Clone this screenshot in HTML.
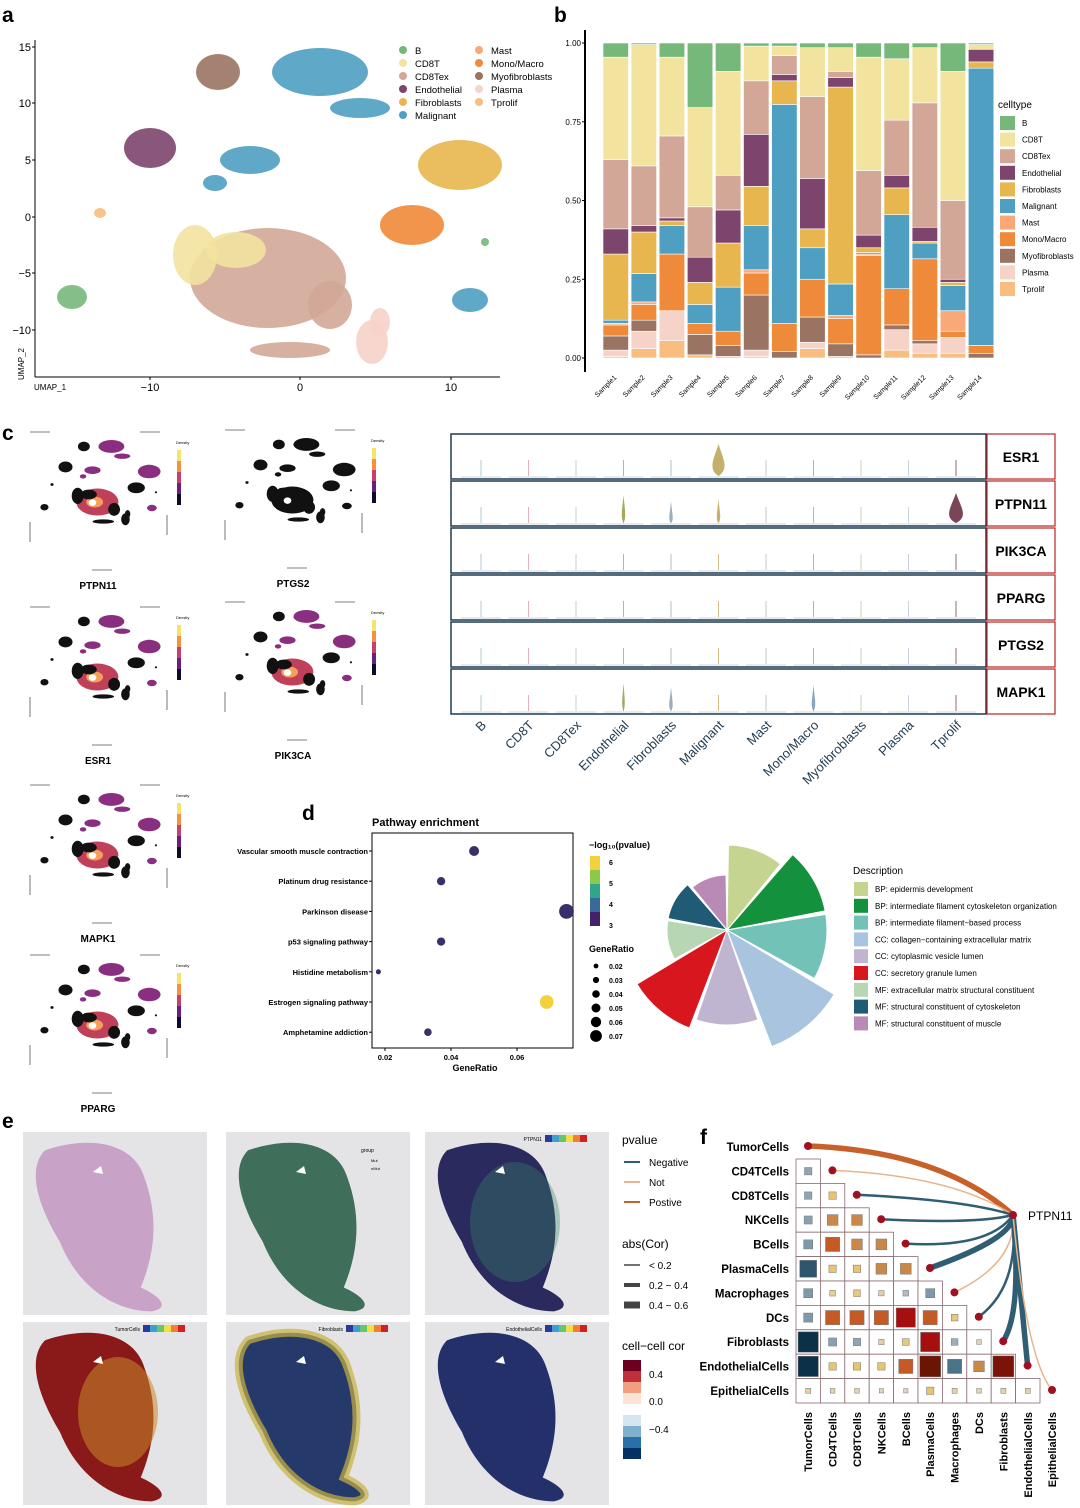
<!DOCTYPE html>
<html><head><meta charset="utf-8">
<style>
body{margin:0;background:#fff;}
svg{display:block;font-family:"Liberation Sans",Arial,sans-serif;}
.lbl{font-weight:bold;font-size:21px;}
</style></head>
<body>
<svg id="fig" width="1080" height="1508" viewBox="0 0 1080 1508" xmlns="http://www.w3.org/2000/svg">
<text class="lbl" x="2" y="22">a</text>
<text class="lbl" x="554" y="22">b</text>
<text class="lbl" x="2" y="440">c</text>
<text class="lbl" x="302" y="820">d</text>
<text class="lbl" x="2" y="1128">e</text>
<text class="lbl" x="700" y="1144">f</text>
<g id="A"></g><g id="B"></g><g id="C"></g><g id="D"></g><g id="E"></g><g id="F"></g>
</svg>
<script>
const NS="http://www.w3.org/2000/svg";
function mk(p,t,a,txt){const e=document.createElementNS(NS,t);for(const k in a)e.setAttribute(k,a[k]);if(txt!==undefined)e.textContent=txt;p.appendChild(e);return e;}

/* ---------- Panel b data ---------- */
const samples=["Sample1","Sample2","Sample3","Sample4","Sample5","Sample6","Sample7","Sample8","Sample9","Sample10","Sample11","Sample12","Sample13","Sample14"];
const celltypes=["Tprolif","Plasma","Myofibroblasts","Mono/Macro","Mast","Malignant","Fibroblasts","Endothelial","CD8Tex","CD8T","B"];
const ctColors=["#f9bd80","#f6d3c8","#9a7362","#ef8a3a","#f9a878","#4e9fc2","#e8b64e","#7d456e","#d2a797","#f2e39e","#76b87a"];
const propTprolif=[.005,.03,.055,.01,.005,.005,0,.03,.005,0,.025,.015,.015,0];
const propPlasma=[.02,.055,.095,0,0,.02,0,.02,0,0,.065,.03,.05,0];
const propMyo=[.045,.035,0,.065,.035,.175,.02,.08,.04,.01,.015,.01,0,.015];
const propMono=[.035,.05,.18,.035,.045,.07,.09,.12,.08,.315,.115,.26,.02,.025];
const propMast=[.005,.008,0,0,0,.01,0,0,.01,.005,0,0,.065,0];
const propMalig=[.01,.09,.09,.06,.14,.14,.695,.1,.1,.005,.235,.05,.08,.88];
const propFib=[.21,.132,.015,.07,.14,.125,.075,.06,.625,.015,.085,.005,.01,.02];
const propEndo=[.08,.02,.01,.08,.105,.165,.02,.16,.03,.04,.04,.045,.01,.04];
const propCD8Tex=[.22,.19,.26,.16,.11,.17,.06,.26,.02,.205,.175,.395,.25,0];
const propCD8T=[.325,.385,.25,.315,.33,.11,.03,.155,.075,.36,.195,.175,.41,.015];
const propB=[.045,.005,.045,.205,.09,.01,.01,.015,.015,.045,.05,.015,.09,.005];
const series=[propTprolif,propPlasma,propMyo,propMono,propMast,propMalig,propFib,propEndo,propCD8Tex,propCD8T,propB];

(function(){
 const g=document.getElementById('B');
 const y=v=>358-v*315, x0=603, pitch=28.1;
 mk(g,'line',{x1:585,y1:30,x2:585,y2:372,stroke:'#000','stroke-width':2});
 [0,.25,.5,.75,1].forEach(t=>{
  const tk=mk(g,'text',{x:581,y:y(t)+3,'font-size':8,'text-anchor':'end'},t.toFixed(2));
  
  mk(g,'line',{x1:582,x2:585,y1:y(t),y2:y(t),stroke:'#000'});
 });
 samples.forEach((s,i)=>{
  const tot=series.reduce((a,ser)=>a+ser[i],0);
  let cum=0;
  series.forEach((ser,k)=>{
   const v=ser[i]/tot;
   const r=mk(g,'rect',{x:x0+i*pitch,y:y(cum+v),width:25.5,height:Math.max(0,v*315),fill:ctColors[k],stroke:'#fff','stroke-width':0.6});
   
   cum+=v;
  });
  const cx=x0+i*pitch+14;
  const t=mk(g,'text',{x:cx,y:378,'font-size':7,'text-anchor':'end',transform:`rotate(-45 ${cx} 378)`},s);
  
 });
 mk(g,'text',{x:998,y:108,'font-size':10},'celltype');
 const order=[10,9,8,7,6,5,4,3,2,1,0];
 order.forEach((k,j)=>{
  const yy=116+j*16.6;
  const r=mk(g,'rect',{x:1000,y:yy,width:15,height:14,fill:ctColors[k]});
  
  mk(g,'text',{x:1022,y:yy+10,'font-size':8},celltypes[k]);
 });
})();

/* ---------- Panel a (UMAP) ---------- */
const clusters=[
 [320,72,48,24,'#4e9fc2'],[360,108,30,10,'#4e9fc2'],[250,160,30,14,'#4e9fc2'],[215,183,12,8,'#4e9fc2'],[470,300,18,12,'#4e9fc2'],
 [218,72,22,18,'#9a7362'],[150,148,26,20,'#7d456e'],[460,165,42,25,'#e8b64e'],[412,225,32,20,'#ef8a3a'],
 [268,278,78,50,'#d2a797'],[195,255,22,30,'#f2e39e'],[330,305,22,24,'#d2a797'],[372,342,16,22,'#f6d3c8'],[380,322,10,14,'#f6d3c8'],
 [72,297,15,12,'#76b87a'],[100,213,6,5,'#f9bd80'],[485,242,4,4,'#76b87a'],[290,350,40,8,'#d2a797'],[236,250,30,18,'#f2e39e']
];
(function(){
 const g=document.getElementById('A');
 mk(g,'line',{x1:35,y1:40,x2:35,y2:377,stroke:'#000'});
 mk(g,'line',{x1:35,y1:377,x2:500,y2:377,stroke:'#000'});
 [[15,47],[10,103],[5,160],[0,217],[-5,273],[-10,330]].forEach(([v,yy])=>{
  mk(g,'text',{x:31,y:yy+4,'font-size':11,'text-anchor':'end'},v<0?'\u2212'+(-v):v);
  mk(g,'line',{x1:32,x2:35,y1:yy,y2:yy,stroke:'#000'});
 });
 [[-10,150],[0,300],[10,451]].forEach(([v,xx])=>{
  mk(g,'text',{x:xx,y:391,'font-size':11,'text-anchor':'middle'},v<0?'\u2212'+(-v):v);
  mk(g,'line',{x1:xx,x2:xx,y1:377,y2:380,stroke:'#000'});
 });
 mk(g,'text',{x:34,y:390,'font-size':8},'UMAP_1');
 mk(g,'text',{x:24,y:380,'font-size':8,transform:'rotate(-90 24 380)'},'UMAP_2');
 clusters.forEach(c=>{const e=mk(g,'ellipse',{cx:c[0],cy:c[1],rx:c[2],ry:c[3],fill:c[4],opacity:0.9});});
 const leg=[['B','#76b87a'],['CD8T','#f2e39e'],['CD8Tex','#d2a797'],['Endothelial','#7d456e'],['Fibroblasts','#e8b64e'],['Malignant','#4e9fc2'],
  ['Mast','#f9a878'],['Mono/Macro','#ef8a3a'],['Myofibroblasts','#9a7362'],['Plasma','#f6d3c8'],['Tprolif','#f9bd80']];
 leg.forEach((l,i)=>{const col=i<6?0:1,row=i<6?i:i-6;const xx=403+col*76,yy=50+row*13;
  const d=mk(g,'circle',{cx:xx,cy:yy,r:4,fill:l[1]});
  mk(g,'text',{x:xx+12,y:yy+4,'font-size':9.5},l[0]);});
})();

/* ---------- Panel c ---------- */
(function(){
 const g=document.getElementById('C');
 const panels=[[30,432,'PTPN11'],[225,430,'PTGS2'],[30,607,'ESR1'],[225,602,'PIK3CA'],[30,785,'MAPK1'],[30,955,'PPARG']];
 panels.forEach((p,i)=>{
  const [px,py,name]=p, s=0.27;
  const gg=mk(g,'g',{transform:`translate(${px},${py})`});
  
  mk(gg,'rect',{x:0,y:0,width:137,height:138,fill:'none',stroke:'#555','stroke-dasharray':'20 90','stroke-width':0.8});
  const inner=mk(gg,'g',{transform:`translate(-5,-5) scale(${s})`});
  clusters.forEach((c,j)=>{
   const hot=(j<5||j==7||j==9)&&(i!=1);
   mk(inner,'ellipse',{cx:c[0],cy:c[1],rx:c[2],ry:c[3],fill:hot?(j==9?'#c0405a':'#8a2f80'):'#111'});
   if(hot&&j==9)mk(inner,'ellipse',{cx:c[0]-10,cy:c[1],rx:c[2]*0.4,ry:c[3]*0.4,fill:'#f5a05a'});
  });
  mk(inner,'ellipse',{cx:250,cy:280,rx:14,ry:12,fill:'#fff'});
  const grad=['#f5e46a','#f59040','#c8406a','#6a1f7a','#0d0a2a'];
  grad.forEach((c,k)=>mk(gg,'rect',{x:147,y:18+k*11,width:4,height:11,fill:c}));
  mk(gg,'text',{x:146,y:12,'font-size':4},'Density');
  mk(gg,'text',{x:68,y:157,'font-size':10,'font-weight':'bold','text-anchor':'middle'},name);
 });
 const vcats=["B","CD8T","CD8Tex","Endothelial","Fibroblasts","Malignant","Mast","Mono/Macro","Myofibroblasts","Plasma","Tprolif"];
 const vcol=["#9fbcd0","#d7a0a8","#b9c4d2","#a8a860","#9aaec0","#c4b06a","#c8b8b8","#8aa6be","#c8c8a0","#c0c8d8","#7a4558"];
 const genes=["ESR1","PTPN11","PIK3CA","PPARG","PTGS2","MAPK1"];
 const vHeight=[[0,0,0,0,0,18,0,0,0,0,0],[0,0,0,14,8,10,0,0,0,0,16],[0,0,0,0,0,0,0,0,0,0,0],[0,0,0,0,0,0,0,0,0,0,0],[0,0,0,0,0,0,0,0,0,0,0],[0,0,0,14,10,0,0,12,0,0,0]];
 const vWidth=[[0,0,0,0,0,7,0,0,0,0,0],[0,0,0,2,2,2,0,0,0,0,8],[0,0,0,0,0,0,0,0,0,0,0],[0,0,0,0,0,0,0,0,0,0,0],[0,0,0,0,0,0,0,0,0,0,0],[0,0,0,1.5,2,0,0,2,0,0,0]];
 const vx=i=>481+i*47.5;
 genes.forEach((gn,r)=>{
  const y0=434+r*47, h=45;
  const box=mk(g,'rect',{x:451,y:y0,width:535,height:h,fill:'#fff',stroke:'#1e3b52','stroke-width':1.5});
  
  const lb=mk(g,'rect',{x:987,y:y0,width:68,height:h,fill:'#fff',stroke:'#b22','stroke-width':1.2});
  
  mk(g,'text',{x:1021,y:y0+28,'font-size':14,'font-weight':'bold','text-anchor':'middle'},gn);
  vcats.forEach((c,i)=>{
   const base=y0+h-3;
   mk(g,'line',{x1:vx(i),x2:vx(i),y1:base,y2:base-16,stroke:vcol[i],'stroke-width':0.8});
   const vh=vHeight[r][i],vw=vWidth[r][i];
   if(vh>0){const v=mk(g,'path',{d:`M${vx(i)},${base} C${vx(i)-vw*1.6},${base-vh*0.4} ${vx(i)-vw*0.6},${base-vh} ${vx(i)},${base-vh-14} C${vx(i)+vw*0.6},${base-vh} ${vx(i)+vw*1.6},${base-vh*0.4} ${vx(i)},${base}Z`,fill:vcol[i]});
    }
   mk(g,'line',{x1:vx(i)-20,x2:vx(i)+20,y1:base+1,y2:base+1,stroke:'#9ab0c4','stroke-width':0.6});
  });
 });
 vcats.forEach((c,i)=>{const t=mk(g,'text',{x:vx(i)+6,y:726,'font-size':13,fill:'#1e3b52','text-anchor':'end',transform:`rotate(-45 ${vx(i)+6} 726)`},c);
  });
})();

/* ---------- Panel d ---------- */
const pathways=["Vascular smooth muscle contraction","Platinum drug resistance","Parkinson disease","p53 signaling pathway","Histidine metabolism","Estrogen signaling pathway","Amphetamine addiction"];
const geneRatio=[0.047,0.037,0.075,0.037,0.018,0.069,0.033];
const logP=[3.3,3.2,3.3,3.2,3.0,6.0,3.2];
const descs=["BP: epidermis development","BP: intermediate filament cytoskeleton organization","BP: intermediate filament\u2212based process","CC: collagen\u2212containing extracellular matrix","CC: cytoplasmic vesicle lumen","CC: secretory granule lumen","MF: extracellular matrix structural constituent","MF: structural constituent of cytoskeleton","MF: structural constituent of muscle"];
const roseVals=[85,100,100,125,95,105,60,60,55];
const roseCols=["#c5d48e","#13913c","#72c2b7","#a9c4de","#c0b5d0","#d8161e","#b7d6b4","#1f5b74","#b98ab6"];
(function(){
 const g=document.getElementById('D');
 const X=v=>385+(v-0.02)*3300, y0=851, step=30.2;
 mk(g,'text',{x:372,y:826,'font-size':11,'font-weight':'bold'},'Pathway enrichment');
 mk(g,'rect',{x:372,y:833,width:201,height:215,fill:'none',stroke:'#000'});
 const col=p=>p>5?'#f2d13a':p>4?'#4fb38a':p>3.5?'#3c6f9a':'#3b2f6b';
 pathways.forEach((p,i)=>{
  const yy=y0+i*step;
  mk(g,'text',{x:368,y:yy+3,'font-size':7.5,'font-weight':'bold','text-anchor':'end'},p);
  mk(g,'line',{x1:369,x2:372,y1:yy,y2:yy,stroke:'#000'});
  const c=mk(g,'circle',{cx:X(geneRatio[i]),cy:yy,r:1+geneRatio[i]*85,fill:col(logP[i])});
  
 });
 [0.02,0.04,0.06].forEach(t=>{mk(g,'text',{x:X(t),y:1060,'font-size':7.5,'font-weight':'bold','text-anchor':'middle'},t.toFixed(2));mk(g,'line',{x1:X(t),x2:X(t),y1:1048,y2:1051,stroke:'#000'});});
 mk(g,'text',{x:475,y:1071,'font-size':9,'font-weight':'bold','text-anchor':'middle'},'GeneRatio');
 mk(g,'text',{x:589,y:848,'font-size':9,'font-weight':'bold'},'\u2212log\u2081\u2080(pvalue)');
 ['#f2d13a','#8cc84a','#2fa58a','#3a6a9a','#41226b'].forEach((c,k)=>mk(g,'rect',{x:590,y:856+k*14,width:10,height:14,fill:c}));
 [6,5,4,3].forEach((v,k)=>mk(g,'text',{x:609,y:865+k*21,'font-size':7,'font-weight':'bold'},v));
 mk(g,'text',{x:589,y:952,'font-size':9,'font-weight':'bold'},'GeneRatio');
 [0.02,0.03,0.04,0.05,0.06,0.07].forEach((v,k)=>{mk(g,'circle',{cx:596,cy:966+k*14,r:1+v*70,fill:'#000'});mk(g,'text',{x:609,y:969+k*14,'font-size':7,'font-weight':'bold'},v.toFixed(2));});
 const cx=727,cy=930;
 roseVals.forEach((r,i)=>{
  const a0=(i*40+1)*Math.PI/180,a1=((i+1)*40-1)*Math.PI/180;
  const p=`M${cx},${cy} L${cx+r*Math.sin(a0)},${cy-r*Math.cos(a0)} A${r},${r} 0 0 1 ${cx+r*Math.sin(a1)},${cy-r*Math.cos(a1)}Z`;
  const s=mk(g,'path',{d:p,fill:roseCols[i],stroke:'#fff','stroke-width':1});
  
 });
 mk(g,'text',{x:853,y:874,'font-size':10},'Description');
 descs.forEach((d,i)=>{const yy=882+i*16.8;const r=mk(g,'rect',{x:854,y:yy,width:14,height:14,fill:roseCols[i]});
  
  mk(g,'text',{x:875,y:yy+10,'font-size':8},d);});
})();

/* ---------- Panel e ---------- */
(function(){
 const g=document.getElementById('E');
 const pans=[[23,1132,'he'],[226,1132,'group'],[425,1132,'ptpn'],[23,1322,'tumor'],[226,1322,'fib'],[425,1322,'endo']];
 const fills={he:'#c9a2c8',group:'#3f6e5a',ptpn:'#2a2a5e',tumor:'#8a1a1a',fib:'#253a6a',endo:'#24306a'};
 const tissue=(w,h)=>`M${w*0.12},${h*0.1} C${w*0.35},${h*0.02} ${w*0.6},${h*0.05} ${w*0.66},${h*0.25} C${w*0.75},${h*0.5} ${w*0.7},${h*0.7} ${w*0.64},${h*0.85} C${w*0.75},${h*0.9} ${w*0.8},${h*0.96} ${w*0.7},${h*0.98} C${w*0.5},${h*0.98} ${w*0.3},${h*0.85} ${w*0.2},${h*0.6} C${w*0.08},${h*0.4} ${w*0.02},${h*0.2} ${w*0.12},${h*0.1}Z`;
 pans.forEach(([x,y,k])=>{
  const gg=mk(g,'g',{transform:`translate(${x},${y})`});
  
  mk(gg,'rect',{x:0,y:0,width:184,height:183,fill:'#e4e4e6'});
  mk(gg,'path',{d:tissue(184,183),fill:fills[k]});
  if(k=='tumor')mk(gg,'ellipse',{cx:95,cy:90,rx:40,ry:55,fill:'#c88a2a',opacity:0.55});
  if(k=='fib'){mk(gg,'path',{d:tissue(184,183),fill:'none',stroke:'#c8b040','stroke-width':8,opacity:0.7});}
  if(k=='ptpn'){mk(gg,'ellipse',{cx:90,cy:90,rx:45,ry:60,fill:'#3a8a6a',opacity:0.35});}
  mk(gg,'path',{d:'M70,40 l8,-6 l2,8z',fill:'#fff'});
  if(k!='he'&&k!='group'){const lbl={ptpn:'PTPN11',tumor:'TumorCells',fib:'Fibroblasts',endo:'EndothelialCells'}[k];
   ['#2b3a9a','#3aa0d0','#6ac46a','#f2e040','#f08030','#d02020'].forEach((c,j)=>mk(gg,'rect',{x:120+j*7,y:3,width:7,height:7,fill:c}));
   mk(gg,'text',{x:117,y:9,'font-size':5,'text-anchor':'end'},lbl);}
  if(k=='group'){mk(gg,'text',{x:135,y:20,'font-size':5},'group');mk(gg,'text',{x:145,y:30,'font-size':4},'Mut');mk(gg,'text',{x:145,y:38,'font-size':4},'nMut');}
 });
 mk(g,'text',{x:622,y:1144,'font-size':12},'pvalue');
 [['Negative','#2f5d72'],['Not','#e8b48a'],['Postive','#c8602a']].forEach((l,i)=>{mk(g,'line',{x1:624,x2:640,y1:1162+i*20,y2:1162+i*20,stroke:l[1],'stroke-width':2});mk(g,'text',{x:649,y:1166+i*20,'font-size':10},l[0]);});
 mk(g,'text',{x:622,y:1248,'font-size':12},'abs(Cor)');
 [['< 0.2',1.5],['0.2 \u2212 0.4',4],['0.4 \u2212 0.6',7]].forEach((l,i)=>{mk(g,'line',{x1:624,x2:640,y1:1265+i*20,y2:1265+i*20,stroke:'#444','stroke-width':l[1]});mk(g,'text',{x:649,y:1269+i*20,'font-size':10},l[0]);});
 mk(g,'text',{x:622,y:1350,'font-size':12},'cell\u2212cell cor');
 const cs=['#6b001f','#c0303a','#f0a080','#fbe3d6','#ffffff','#d6e6f0','#80b0d0','#2a70a8','#053061'];
 cs.forEach((c,i)=>mk(g,'rect',{x:623,y:1360+i*11,width:18,height:11,fill:c}));
 [['0.4',1378],['0.0',1405],['\u22120.4',1433]].forEach(l=>mk(g,'text',{x:649,y:l[1],'font-size':10},l[0]));
})();

/* ---------- Panel f ---------- */
const cellNames=["TumorCells","CD4TCells","CD8TCells","NKCells","BCells","PlasmaCells","Macrophages","DCs","Fibroblasts","EndothelialCells","EpithelialCells"];
const corrRows=[[-0.1],[-0.1,0.1],[-0.12,0.2,0.2],[-0.15,0.3,0.2,0.2],[-0.38,0.1,0.1,0.2,0.2],[-0.15,0.05,0.08,0.04,-0.05,-0.15],[-0.15,0.3,0.3,0.3,0.45,0.3,0.08],[-0.48,-0.12,-0.1,0.04,0.08,0.45,-0.08,0.02],[-0.48,0.1,0.1,0.1,0.3,0.55,-0.3,0.2,0.52],[0.03,0.02,0.02,0.01,0.01,0.1,0.03,0.02,0.03,0.03]];
const linkType=["pos","not","neg","neg","neg","neg","not","neg","neg","neg","not"];
const linkAbs=[0.6,0.1,0.3,0.3,0.3,0.5,0.1,0.3,0.5,0.5,0.1];
(function(){
 const g=document.getElementById('F');
 const L=796,T=1159,S=24.4;
 const lerp=(a,b,t)=>{const pa=a.match(/\w\w/g).map(h=>parseInt(h,16)),pb=b.match(/\w\w/g).map(h=>parseInt(h,16));return'rgb('+pa.map((v,i)=>Math.round(v+(pb[i]-v)*t)).join(',')+')';};
 const color=v=>{const pos=[[0,'e0d8c0'],[0.1,'e8c46a'],[0.2,'c98848'],[0.3,'c65a25'],[0.45,'a50f0f'],[0.55,'6b1505']],neg=[[0,'c9d3dc'],[0.1,'8fa5b5'],[0.3,'4a7488'],[0.48,'0b3148']];
  const st=v>=0?pos:neg,a=Math.abs(v);for(let i=0;i<st.length-1;i++){if(a<=st[i+1][0])return lerp(st[i][1],st[i+1][1],(a-st[i][0])/(st[i+1][0]-st[i][0]));}return'#'+st[st.length-1][1];};
 corrRows.forEach((row,r)=>{
  row.forEach((v,c)=>{
   const x=L+c*S,y=T+r*S;
   mk(g,'rect',{x:x,y:y,width:S,height:S,fill:'#fff',stroke:'#8a6a70','stroke-width':0.8});
   const sz=Math.min(21,4+Math.abs(v)*34);
   const q=mk(g,'rect',{x:x+S/2-sz/2,y:y+S/2-sz/2,width:sz,height:sz,fill:color(v),stroke:'#777','stroke-width':0.5});
   
  });
 });
 const hub=[1013,1215];
 cellNames.forEach((n,i)=>{
  const yy=1147+i*S;
  mk(g,'text',{x:789,y:yy+4,'font-size':11.5,'font-weight':'bold','text-anchor':'end'},n);
  const dx=808+i*S, dy=yy-1;
  const col=linkType[i]=='pos'?'#c8602a':linkType[i]=='neg'?'#2f5d72':'#e8b48a';
  const w=linkAbs[i]<0.2?1.5:linkAbs[i]<0.4?2.5:5.5;
  const l=mk(g,'path',{d:`M${hub[0]},${hub[1]} Q${i<5?(dx+hub[0])/2+30:hub[0]+(dx-hub[0])*0.1+10},${i<5?dy+5:dy-30} ${dx},${dy}`,fill:'none',stroke:col,'stroke-width':w});
  
  mk(g,'circle',{cx:dx,cy:dy,r:4,fill:'#a01020'});
  const bx=L+i*S+S/2;
  mk(g,'text',{x:bx+4,y:1412,'font-size':11,'font-weight':'bold','text-anchor':'end',transform:`rotate(-90 ${bx+4} 1412)`},n);
 });
 mk(g,'circle',{cx:hub[0],cy:hub[1],r:4,fill:'#a01020'});
 mk(g,'text',{x:1028,y:1220,'font-size':12},'PTPN11');
})();
</script>
</body></html>
